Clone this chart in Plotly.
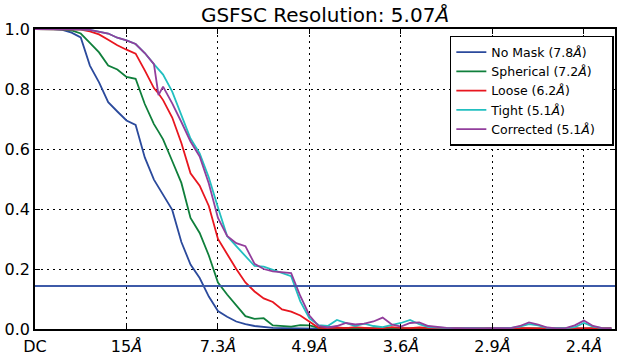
import plotly.graph_objects as go

# Shell index (spatial frequency bins); ticks every 20 shells
shells = list(range(0, 27, 2)) + [27] + list(range(28, 127, 2))

tick_vals = [0, 20, 40, 60, 80, 100, 120]
tick_text = ["DC", "15<i>Å</i>", "7.3<i>Å</i>", "4.9<i>Å</i>", "3.6<i>Å</i>", "2.9<i>Å</i>", "2.4<i>Å</i>"]

y_tick_vals = [0.0, 0.2, 0.4, 0.6, 0.8, 1.0]
y_tick_text = ["0.0", "0.2", "0.4", "0.6", "0.8", "1.0"]

threshold = 0.143

no_mask = [1.0, 1.0, 1.0, 0.997, 0.988, 0.972, 0.878, 0.822, 0.756, 0.725, 0.695, 0.68, 0.572, 0.498,
           0.472,
           0.45, 0.397, 0.29, 0.215, 0.17, 0.108, 0.06, 0.041, 0.025, 0.016, 0.01, 0.006, 0.004, 0.003,
           0.002, 0.003, 0.002, 0.001, 0.002, 0.001, 0.002, 0.001, 0.002, 0.001, 0.001, 0.002, 0.001,
           0.001, 0.002, 0.001, 0.001, 0.001, 0.002, 0.001, 0.001, 0.001, 0.002, 0.001, 0.001, 0.001,
           0.001, 0.002, 0.001, 0.001, 0.001, 0.001, 0.002, 0.001, 0.001, 0.001]

spherical = [1.0, 1.0, 1.0, 0.999, 0.995, 0.985, 0.954, 0.922, 0.878, 0.865, 0.84, 0.834, 0.75, 0.683,
             0.658,
             0.632, 0.56, 0.487, 0.37, 0.32, 0.245, 0.155, 0.115, 0.078, 0.043, 0.034, 0.036, 0.012,
             0.009, 0.008, 0.013, 0.012, 0.004, 0.006, 0.003, 0.004, 0.002, 0.003, 0.002, 0.002, 0.003,
             0.002, 0.002, 0.001, 0.002, 0.002, 0.001, 0.002, 0.001, 0.002, 0.001, 0.001, 0.002, 0.002,
             0.001, 0.003, 0.002, 0.001, 0.002, 0.001, 0.002, 0.001, 0.001, 0.002, 0.001]

loose = [1.0, 1.0, 1.0, 1.0, 1.0, 0.998, 0.992, 0.982, 0.964, 0.946, 0.931, 0.918, 0.862, 0.803,
         0.785,
         0.763, 0.705, 0.62, 0.519, 0.478, 0.41, 0.30, 0.25, 0.2, 0.155, 0.125, 0.102, 0.09, 0.065,
         0.058, 0.045, 0.025, 0.004, 0.003, 0.005, 0.003, 0.006, 0.004, 0.002, 0.003, 0.006, 0.004,
         0.003, 0.005, 0.003, 0.002, 0.003, 0.002, 0.003, 0.002, 0.003, 0.002, 0.002, 0.003, 0.004,
         0.003, 0.002, 0.003, 0.002, 0.003, 0.002, 0.003, 0.004, 0.003, 0.004]

tight = [1.0, 1.0, 1.0, 1.0, 1.0, 0.999, 0.997, 0.992, 0.985, 0.971, 0.962, 0.95, 0.92, 0.883,
         0.865,
         0.848, 0.791, 0.71, 0.635, 0.585, 0.505, 0.405, 0.31, 0.276, 0.242, 0.21, 0.208, 0.197,
         0.188, 0.176, 0.092, 0.035, 0.013, 0.01, 0.03, 0.02, 0.01, 0.018, 0.01, 0.006, 0.012, 0.02,
         0.03, 0.016, 0.006, 0.004, 0.003, 0.002, 0.003, 0.002, 0.003, 0.002, 0.003, 0.004, 0.008,
         0.016, 0.012, 0.004, 0.003, 0.003, 0.006, 0.02, 0.008, 0.003, 0.002]

corrected = [1.0, 1.0, 1.0, 1.0, 1.0, 0.999, 0.997, 0.992, 0.985, 0.971, 0.962, 0.95, 0.92, 0.883,
             0.78,
             0.808, 0.752, 0.69, 0.625, 0.575, 0.485, 0.37, 0.31, 0.286, 0.276, 0.217, 0.2, 0.192,
             0.188, 0.186, 0.11, 0.045, 0.01, 0.005, 0.01, 0.02, 0.015, 0.018, 0.025, 0.038, 0.015,
             0.008, 0.02, 0.022, 0.01, 0.006, 0.004, 0.003, 0.002, 0.003, 0.002, 0.003, 0.002, 0.003,
             0.01, 0.022, 0.015, 0.005, 0.002, 0.003, 0.012, 0.028, 0.01, 0.003, 0.002]

series_names = ["No Mask (7.8<i>Å</i>)", "Spherical (7.2<i>Å</i>)", "Loose (6.2<i>Å</i>)",
                "Tight (5.1<i>Å</i>)", "Corrected (5.1<i>Å</i>)"]
series_values = [no_mask, spherical, loose, tight, corrected]
series_colors = ["#2b4a9c", "#0f7f3b", "#e8161f", "#22bfc0", "#923e9c"]

FONT = "DejaVu Sans"
X_MAX = 126.8
PAD = "\u00a0\u00a0\u00a0"

fig = go.Figure()
for name, vals, col in zip(series_names, series_values, series_colors):
    fig.add_trace(go.Scatter(x=shells, y=vals, mode="lines", name=name + PAD,
                             line=dict(color=col, width=1.8)))

fig.add_trace(go.Scatter(x=[0, X_MAX], y=[threshold, threshold], mode="lines",
                         line=dict(color="#3d5aa8", width=2), showlegend=False,
                         hoverinfo="skip"))

axis_common = dict(
    showline=True, linecolor="black", linewidth=1.5, mirror="ticks",
    ticks="inside", ticklen=5, tickwidth=1, tickcolor="black",
    showgrid=True, gridcolor="black", gridwidth=1, griddash="2px,4px",
    zeroline=False, automargin=False,
    tickfont=dict(family=FONT, size=16, color="black"),
)

fig.update_layout(
    width=617, height=355,
    margin=dict(l=35, r=2, t=29, b=26, autoexpand=False),
    paper_bgcolor="white", plot_bgcolor="white",
    font=dict(family=FONT, color="black"),
    title=dict(text="GSFSC Resolution: 5.07<i>Å</i>", x=0.5, xref="paper",
               y=1 - 14.5 / 355, yref="container", yanchor="middle",
               font=dict(family=FONT, size=20, color="black")),
    xaxis=dict(range=[0, X_MAX], tickmode="array", tickvals=tick_vals, ticktext=tick_text,
               ticklabelstandoff=2, **axis_common),
    yaxis=dict(range=[0, 1], tickmode="array", tickvals=y_tick_vals, ticktext=y_tick_text,
               **axis_common),
    legend=dict(x=0.998, xanchor="right", y=0.977, yanchor="top",
                bgcolor="white", bordercolor="black", borderwidth=1.5,
                font=dict(family=FONT, size=12.5, color="black"),
                tracegroupgap=0),
    showlegend=True,
)

fig.write_html("out.html", config={"displayModeBar": False},
               post_script="document.body.style.margin='0';document.body.style.overflow='hidden';")
